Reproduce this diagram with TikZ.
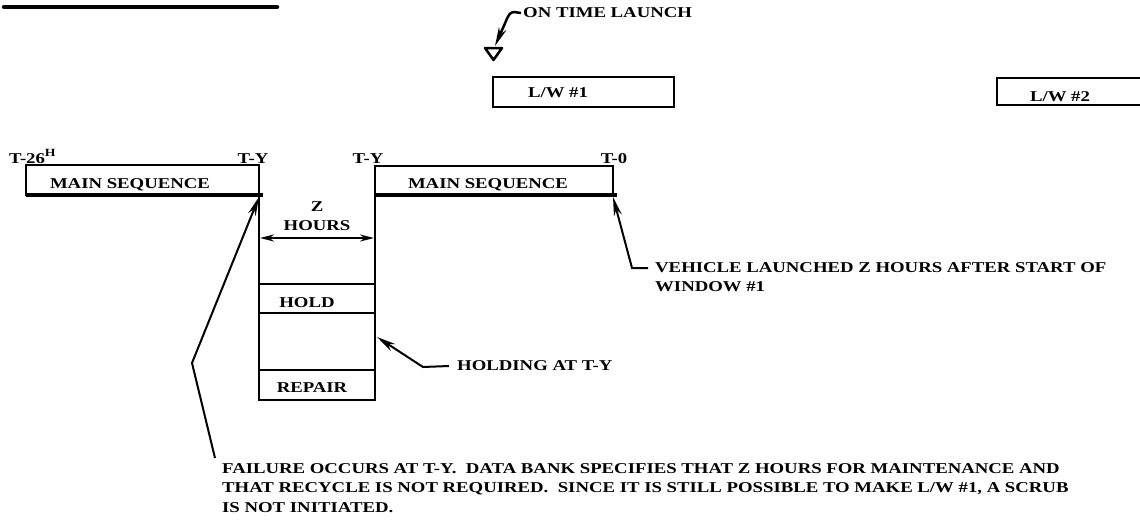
\documentclass[tikz,border=0pt]{standalone}
\usepackage{fontspec}
\setmainfont{Liberation Serif}[FakeStretch=1.25]
\usetikzlibrary{arrows.meta}
\begin{document}
\begin{tikzpicture}[x=1pt,y=-1pt,
  txt/.style={font=\bfseries\fontsize{15}{19.5}\selectfont, inner sep=0pt},
  frame/.style={draw, line width=2.5pt, inner sep=0pt, outer sep=0pt},
  conn/.style={line width=2pt},
  tip/.style={-{Stealth[length=19pt,width=8pt]}},
  dbl/.style={{Stealth[length=14pt,width=7pt]}-{Stealth[length=14pt,width=7pt]}},
  heavy/.style={line width=4pt}
]
\useasboundingbox (0,0) rectangle (1140,525);

% heading underline
\draw[line width=4.5pt, line cap=round] (4,7) -- (277,7);

% on time launch
\node[txt, anchor=west] (otl) at (523,13) {ON TIME LAUNCH};
\draw[line width=2.5pt, line join=round] (485,48) -- (502,48) -- (493.5,60) -- cycle;
\coordinate (tri) at (495,46);
\draw[line width=2.5pt, tip] ([xshift=-2pt]otl.west) -- (514,12) .. controls (510,12) and (508,16) .. (506,21) -- (tri);

% launch windows
\node[frame, minimum width=181pt, minimum height=30pt] (lw1) at (583.5,92) {};
\node[txt] (lw1t) at (558,93) {L/W \#1};
\node[frame, minimum width=160pt, minimum height=27pt] (lw2) at (1077,91.5) {};
\node[txt] (lw2t) at (1060,97) {L/W \#2};

% main sequences
\node[frame, minimum width=233pt, minimum height=30pt] (ms1) at (142.5,180) {};
\node[txt] (ms1t) at (130,185) {MAIN SEQUENCE};
\draw[heavy] (ms1.south west) -- ([xshift=4pt]ms1.south east);
\node[frame, minimum width=238pt, minimum height=29pt] (ms2) at (494,180.5) {};
\node[txt] (ms2t) at (488,185) {MAIN SEQUENCE};
\draw[heavy] (ms2.south west) -- ([xshift=4pt]ms2.south east);

% time labels
\node[txt, anchor=base west] (t26) at (9,163) {T-26\raisebox{7pt}{\fontsize{11}{11}\selectfont H}};
\node[txt, anchor=base] (ty1) at (253,163) {T-Y};
\node[txt, anchor=base] (ty2) at (368,163) {T-Y};
\node[txt, anchor=base] (t0) at (614,163) {T-0};

% column
\node[frame, minimum width=116pt, minimum height=29pt] (hold) at (317,298.5) {};
\node[txt] (holdt) at (307,303) {HOLD};
\node[frame, minimum width=116pt, minimum height=57pt] (blank) at (317,341.5) {};
\node[frame, minimum width=116pt, minimum height=30pt] (repair) at (317,385) {};
\node[txt] (repairt) at (312,388) {REPAIR};
\draw[line width=2.5pt] (ms1.south east) -- (hold.north west);
\draw[line width=2.5pt] (ms2.south west) -- (hold.north east);

% Z hours
\node[txt, align=center] (zh) at (317,216) {Z\\HOURS};
\coordinate (zl) at (260,238);
\coordinate (zr) at (374,238);
\draw[conn, dbl] (zl) -- (zr);

% holding at T-Y
\node[txt, anchor=west] (holding) at (457,366) {HOLDING AT T-Y};
\coordinate (holdtip) at (377,337);
\draw[conn, tip] ([xshift=-8pt]holding.west) -- (423,367) -- (holdtip);

% vehicle launched
\node[txt, anchor=north west, align=left] (veh) at (655,262) {VEHICLE LAUNCHED Z HOURS AFTER START OF\\WINDOW \#1};
\coordinate (vehs) at (648,268);
\draw[conn, tip] (vehs) -- (632,268) -- ([yshift=-2pt]ms2.south east);

% failure
\node[txt, anchor=north west, align=left] (fail) at (222,463) {FAILURE OCCURS AT T-Y.\ \ DATA BANK SPECIFIES THAT Z HOURS FOR MAINTENANCE AND\\THAT RECYCLE IS NOT REQUIRED.\ \ SINCE IT IS STILL POSSIBLE TO MAKE L/W \#1, A SCRUB\\IS NOT INITIATED.};
\coordinate (failk) at (192,363);
\draw[conn, tip] ([xshift=-7pt,yshift=5pt]fail.north west) -- (failk) -- ([yshift=-2pt]ms1.south east);
\end{tikzpicture}
\end{document}
